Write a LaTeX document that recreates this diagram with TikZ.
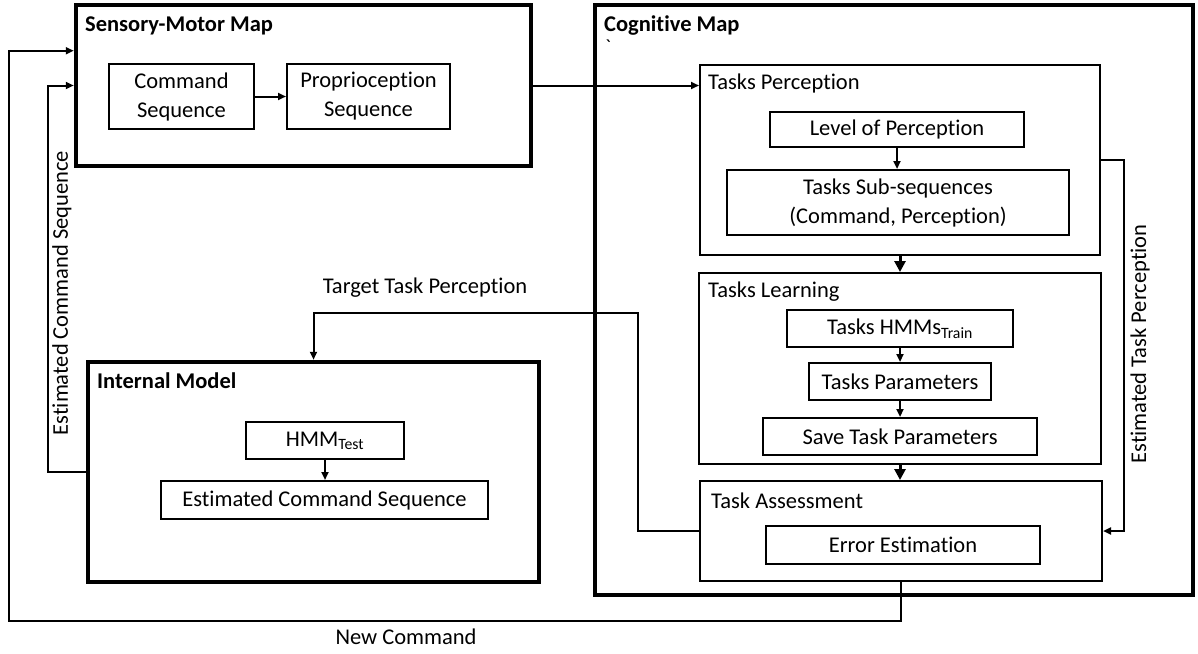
\documentclass[tikz,border=0pt]{standalone}
\usepackage{fontspec}
\setmainfont{Carlito}[Ligatures={NoCommon}]
\usetikzlibrary{arrows.meta,calc,positioning}

\begin{document}
\begin{tikzpicture}[x=1pt,y=-1pt,
    font=\fontsize{22.5}{29}\selectfont,
    bigbox/.style={draw, line width=4.5pt, inner sep=0pt},
    box/.style={draw, line width=2pt, inner sep=0pt, align=center},
    title/.style={anchor=west, inner sep=0pt},
    lab/.style={inner sep=0pt},
    arr/.style={line width=2pt, -{Triangle[length=8pt,width=7pt]}},
    bigarr/.style={line width=3pt, -{Triangle[length=11pt,width=11pt]}}]
    \useasboundingbox (0,0) rectangle (1198,653);

    % Sensory-motor map
    \node[bigbox, minimum width=455, minimum height=161] (sm) at (303.5,85.5) {};
    \node[title] (smtitle) at (85,26) {\bfseries Sensory-Motor Map};
    \node[box, minimum width=145, minimum height=65] (cmd) at (181.5,96.5) {Command\\Sequence};
    \node[box, minimum width=163, minimum height=65] (prop) at (368.5,96.5) {Proprioception\\Sequence};

    % Internal model
    \node[bigbox, minimum width=451, minimum height=220] (im) at (313.5,472) {};
    \node[title] (imtitle) at (97,381) {\bfseries Internal Model};
    \node[box, minimum width=158, minimum height=37] (hmm) at (325,440.5) {HMM\textsubscript{Test}};
    \node[box, minimum width=327, minimum height=38] (ecs) at (324.5,500) {Estimated Command Sequence};

    % Cognitive map
    \node[bigbox, minimum width=598, minimum height=590] (cog) at (894,300) {};
    \node[title] (cogtitle) at (604,26) {\bfseries Cognitive Map};
    \node[lab, font=\fontsize{20}{24}\selectfont] (tick) at (608,47) {\textasciigrave};

    \node[box, minimum width=400, minimum height=190] (tp) at (900,160) {};
    \node[title] (tptitle) at (708,84) {Tasks Perception};
    \node[box, minimum width=254, minimum height=35] (lop) at (897,129.5) {Level of Perception};
    \node[box, minimum width=342, minimum height=65] (tss) at (898,202.5) {Tasks Sub-sequences\\(Command, Perception)};

    \node[box, minimum width=402, minimum height=191] (tl) at (900,368.5) {};
    \node[title] (tltitle) at (708,292) {Tasks Learning};
    \node[box, minimum width=226, minimum height=37] (hmms) at (900,328.5) {Tasks HMMs\textsubscript{Train}};
    \node[box, minimum width=181.5, minimum height=37] (tpar) at (900,381.5) {Tasks Parameters};
    \node[box, minimum width=273.5, minimum height=37] (stp) at (900,436.5) {Save Task Parameters};

    \node[box, minimum width=402, minimum height=100] (ta) at (901,531) {};
    \node[title] (tatitle) at (711,501) {Task Assessment};
    \node[box, minimum width=274, minimum height=38] (ee) at (903,545) {Error Estimation};

    % Bends
    \coordinate (ncbend) at (9,621);
    \coordinate (ecsbend) at (48,300);
    \coordinate (etpbend) at (1124,300);
    \coordinate (ttpbend) at (638,313);

    % Arrows inside the boxes
    \draw[arr] (cmd) -- (prop);
    \draw[arr] (hmm.south) -- (hmm.south |- ecs.north);
    \draw[arr] (lop.south) -- (lop.south |- tss.north);
    \draw[arr] (hmms.south) -- (hmms.south |- tpar.north);
    \draw[arr] (tpar.south) -- (tpar.south |- stp.north);
    \draw[bigarr] (tp.south) -- (tp.south |- tl.north);
    \draw[bigarr] (tl.south) -- (tl.south |- ta.north);

    % Feedback loops
    \draw[arr] (sm.east) -- (sm.east -| tp.west);
    \draw[arr] (ta.south) |- (ncbend) |- ($(sm.north west)!0.29!(sm.south west)$);
    \draw[arr] (im.west) -| (ecsbend) |- (sm.west);
    \draw[arr] (tp.east) -| (etpbend) |- (ta.east);
    \draw[arr] (ta.west) -| (ttpbend) -| (im.north);

    % Labels
    \node[lab] (nclab) at (406,637) {New Command};
    \node[lab, rotate=90] (ecslab) at (62,293) {Estimated Command Sequence};
    \node[lab, rotate=90] (etplab) at (1140,344) {Estimated Task Perception};
    \node[lab] (ttplab) at (425,288) {Target Task Perception};
\end{tikzpicture}
\end{document}
